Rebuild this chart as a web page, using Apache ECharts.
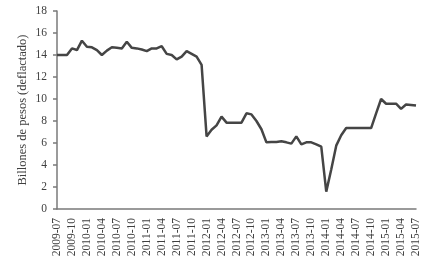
<!DOCTYPE html>
<html>
<head>
<meta charset="utf-8">
<script src="https://cdn.jsdelivr.net/npm/echarts@6/dist/echarts.min.js"></script>
<style>html,body{margin:0;padding:0;background:#fff;}#c{width:433px;height:266px;}</style>
</head>
<body>
<div id="c"></div>
<script>
const months = [
 "2009-07","2009-08","2009-09","2009-10","2009-11","2009-12",
 "2010-01","2010-02","2010-03","2010-04","2010-05","2010-06","2010-07","2010-08","2010-09","2010-10","2010-11","2010-12",
 "2011-01","2011-02","2011-03","2011-04","2011-05","2011-06","2011-07","2011-08","2011-09","2011-10","2011-11","2011-12",
 "2012-01","2012-02","2012-03","2012-04","2012-05","2012-06","2012-07","2012-08","2012-09","2012-10","2012-11","2012-12",
 "2013-01","2013-02","2013-03","2013-04","2013-05","2013-06","2013-07","2013-08","2013-09","2013-10","2013-11","2013-12",
 "2014-01","2014-02","2014-03","2014-04","2014-05","2014-06","2014-07","2014-08","2014-09","2014-10","2014-11","2014-12",
 "2015-01","2015-02","2015-03","2015-04","2015-05","2015-06","2015-07"
];
const values = [
 14.0,14.0,14.0,14.6,14.45,15.3,
 14.75,14.7,14.45,14.0,14.4,14.7,14.65,14.6,15.2,14.65,14.6,14.5,
 14.35,14.6,14.6,14.8,14.1,14.0,13.6,13.85,14.35,14.1,13.85,13.1,
 6.6,7.2,7.6,8.4,7.85,7.85,7.85,7.85,8.7,8.6,8.0,7.25,
 6.06,6.08,6.1,6.15,6.06,5.94,6.6,5.88,6.06,6.06,5.88,5.67,
 1.58,3.6,5.76,6.7,7.36,7.36,7.36,7.36,7.36,7.36,8.7,10.0,
 9.57,9.57,9.57,9.1,9.5,9.45,9.4
];
const yAxisName = "Billones de pesos (deflactado)";

const chart = echarts.init(document.getElementById('c'), null, {renderer: 'canvas'});
const font = "Liberation Serif";
chart.setOption({
  animation: false,
  grid: {left: 57, right: 17, top: 11, bottom: 57},
  xAxis: {
    type: 'category',
    data: months,
    boundaryGap: false,
    axisLine: {lineStyle: {color: '#7a7a7a', width: 1.5}},
    axisTick: {show: false},
    axisLabel: {interval: 2, rotate: 90, fontFamily: font, fontSize: 11.5, color: '#404040', margin: 9}
  },
  yAxis: {
    type: 'value',
    min: 0, max: 18, interval: 2,
    name: yAxisName,
    nameLocation: 'middle',
    nameGap: 28,
    nameMoveOverlap: false,
    nameTextStyle: {fontFamily: font, fontSize: 12.5, color: '#404040'},
    splitLine: {show: false},
    axisLine: {show: true, lineStyle: {color: '#7a7a7a', width: 1.5}},
    axisTick: {show: true, inside: false, length: 4, lineStyle: {color: '#7a7a7a', width: 1.5}},
    axisLabel: {fontFamily: font, fontSize: 11.5, color: '#404040', margin: 10}
  },
  series: [{
    type: 'line',
    data: values,
    symbol: 'none',
    lineStyle: {color: '#454545', width: 2.5}
  }]
});
</script>
</body>
</html>
